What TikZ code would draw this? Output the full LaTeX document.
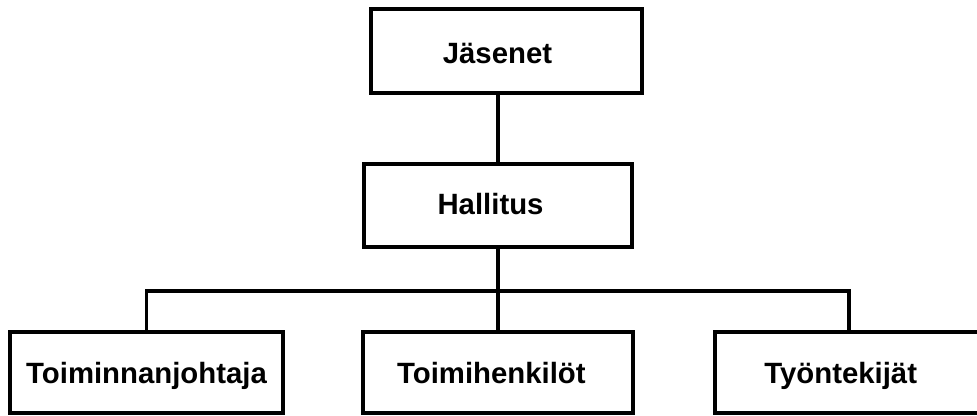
\documentclass[tikz,border=0pt]{standalone}
\usepackage{fontspec}
\setmainfont{Liberation Sans}
\begin{document}
\begin{tikzpicture}[x=0.75pt,y=-0.75pt,
  orgbox/.style={draw=black,line width=2.4pt,fill=white,inner sep=0pt,
    text height=15.8pt,text depth=0pt,
    font=\fontsize{22}{26}\selectfont\bfseries},
  link/.style={draw=black,line width=2.4pt,line join=miter}]
\useasboundingbox (0,0) rectangle (977,416);
\clip (0,0) rectangle (977,416);
% upper levels
\node[orgbox,minimum width=271*0.75pt,minimum height=84*0.75pt] (jas) at (506.5,51) {\raisebox{-1.5pt}{\hspace*{-13.5pt}Jäsenet}};
\node[orgbox,minimum width=268*0.75pt,minimum height=83*0.75pt] (hal) at (498,205.5) {\raisebox{1.4pt}{\hspace*{-11.2pt}Hallitus}};
% bottom row
\node[orgbox,minimum width=273*0.75pt,minimum height=81*0.75pt] (toj) at (146.5,372.5) {Toiminnanjohtaja};
\node[orgbox,minimum width=270*0.75pt,minimum height=81*0.75pt] (toh) at (498,372.5) {\hspace*{-10pt}Toimihenkilöt};
\node[orgbox,minimum width=268*0.75pt,minimum height=81*0.75pt,text width=268*0.75pt,align=left] (tyo) at (849,372.5) {\hspace*{37pt}Työntekijät};
\coordinate (bus) at (498,291);
% connectors
\draw[link] (hal.north) -- (hal.north |- jas.south);
\draw[link] (hal.south) -- (toh.north);
\draw[link] (toj.north) -- (toj.north |- bus) -- (tyo.north |- bus) -- (tyo.north);
\end{tikzpicture}
\end{document}
